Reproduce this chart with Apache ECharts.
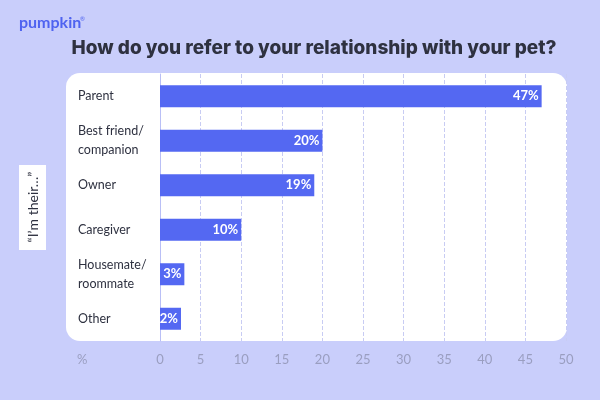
<!DOCTYPE html>
<html>
<head>
<meta charset="utf-8">
<script src="https://cdn.jsdelivr.net/npm/echarts@6/dist/echarts.min.js"></script>
<style>
  html, body { margin: 0; padding: 0; background: #c9cefb; }
  #chart { width: 600px; height: 400px; }
</style>
</head>
<body>
<div id="chart"></div>
<script>
var categories = ['Parent', 'Best friend/\ncompanion', 'Owner', 'Caregiver', 'Housemate/\nroommate', 'Other'];
var values = [47, 20, 19, 10, 3, 2];
var xTicks = [0, 5, 10, 15, 20, 25, 30, 35, 40, 45, 50];

var myChart = echarts.init(document.getElementById('chart'));
var option = {
    backgroundColor: '#c9cefb',
    animation: false,
    graphic: [
        {
            type: 'rect', z: -1,
            shape: { x: 66, y: 73, width: 501, height: 268, r: 14 },
            style: { fill: '#ffffff' }
        },
        {
            type: 'text', left: 19, top: 15,
            style: { text: 'pumpkin', fill: '#4f63f0', font: 'bold 16px Lato' }
        },
        {
            type: 'text', left: 80, top: 16,
            style: { text: '®', fill: '#4f63f0', font: '6px Lato' }
        },
        {
            type: 'text', x: 314, y: 48,
            style: { text: 'How do you refer to your relationship with your pet?', fill: '#2e3140', font: '800 19px Inter', align: 'center', verticalAlign: 'middle' }
        },
        {
            type: 'rect',
            shape: { x: 19, y: 165, width: 27, height: 85 },
            style: { fill: '#ffffff' }
        },
        {
            type: 'text', x: 33, y: 207, rotation: Math.PI / 2,
            style: { text: '“I’m their…”', fill: '#2e3140', font: '14px Lato', align: 'center', verticalAlign: 'middle' }
        },
        {
            type: 'text', x: 77, y: 360,
            style: { text: '%', fill: '#9a9ec0', font: '13px Lato', verticalAlign: 'middle' }
        }
    ],
    grid: { left: 160, right: 34, top: 74, bottom: 59 },
    xAxis: {
        type: 'value',
        min: 0, max: 50, interval: 5,
        axisLine: { show: false },
        axisTick: { show: false },
        axisLabel: { color: '#9a9ec0', fontSize: 13, fontFamily: 'Lato', margin: 12 },
        splitLine: { lineStyle: { color: '#c8ccf3', type: 'dashed' } }
    },
    yAxis: {
        type: 'category',
        inverse: true,
        data: categories,
        axisLine: { lineStyle: { color: '#b9bff6' } },
        axisTick: { show: false },
        axisLabel: {
            align: 'left', margin: 82,
            color: '#2e3140', fontSize: 12.5, fontFamily: 'Lato', lineHeight: 19
        }
    },
    series: [
        {
            type: 'bar',
            data: values,
            barWidth: 22,
            barMinHeight: 21,
            itemStyle: { color: '#5468f2' },
            label: {
                show: true, position: 'insideRight', distance: 3,
                formatter: '{c}%', color: '#ffffff', fontWeight: 'bold', fontSize: 13, fontFamily: 'Lato'
            }
        }
    ]
};
myChart.setOption(option);
</script>
</body>
</html>
